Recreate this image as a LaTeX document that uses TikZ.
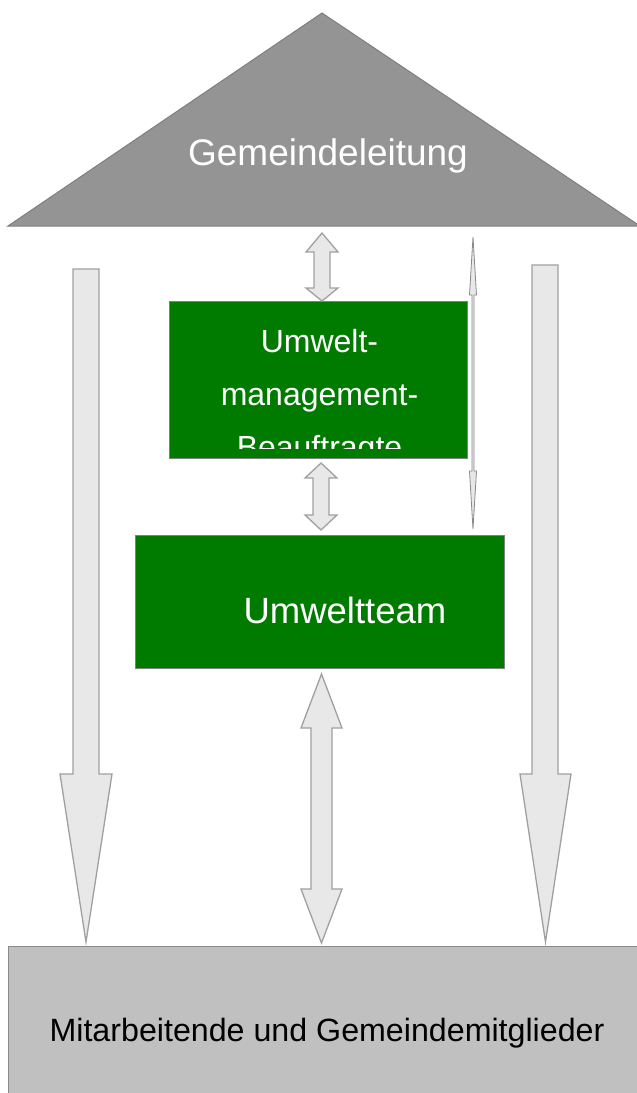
\documentclass[tikz,border=0pt]{standalone}
\usepackage{fontspec}
\setmainfont{Liberation Sans}
\definecolor{roofgray}{HTML}{949494}
\definecolor{roofedge}{HTML}{7F7F7F}
\definecolor{basegray}{HTML}{C0C0C0}
\definecolor{baseedge}{HTML}{8A8A8A}
\definecolor{teamgreen}{HTML}{007B00}
\definecolor{arrowfill}{HTML}{E8E8E8}
\definecolor{arrowedge}{HTML}{A0A0A0}
\tikzset{
  blockarrow/.style={fill=arrowfill, draw=arrowedge, line width=1.3pt, line join=miter},
  greenbox/.style={rectangle, fill=teamgreen, draw=gray, line width=0.9pt, inner sep=0pt},
  basebox/.style={fill=basegray, draw=baseedge, line width=1pt},
  whitetext/.style={text=white, inner sep=0pt, anchor=base},
}
\newcommand{\fsz}[1]{\fontsize{#1}{#1}\selectfont}
\begin{document}
\begin{tikzpicture}[x=1pt,y=-1pt]
\useasboundingbox (0,0) rectangle (637,1093);
\clip (0,0) rectangle (637,1093);

% roof: church leadership
\fill[roofgray, draw=roofedge, line width=1pt, line join=miter] (8,226) -- (322,13) -- (640,226) -- cycle;
\node[whitetext] (lead) at (328,165) {\fsz{37}Gemeindeleitung};

% base: staff and members
\draw[basebox] (8,946) rectangle (645,1100);
\node[inner sep=0pt, anchor=base] (members) at (327,1041) {\fsz{32.2}Mitarbeitende und Gemeindemitglieder};

% environmental management officer
\node[greenbox, minimum width=298pt, minimum height=157pt] (emb) at (318,379.5) {};
\begin{scope}
  \clip (169,301) rectangle (467,448);
  \node[whitetext] (emb1) at (319.5,352) {\fsz{32}Umwelt-};
  \node[whitetext] (emb2) at (319.5,405) {\fsz{32}management-};
  \node[whitetext] (emb3) at (319.5,458) {\fsz{32}Beauftragte};
\end{scope}

% environmental team
\node[greenbox, minimum width=369pt, minimum height=133pt] (team) at (319.5,601.5) {};
\node[whitetext] (teamlbl) at (345,623) {\fsz{36.5}Umweltteam};

% two-way arrow roof <-> officer
\draw[blockarrow] (322,233) -- (338,252) -- (330,252) -- (330,288) -- (338,288) -- (322,301)
  -- (306,288) -- (314,288) -- (314,252) -- (306,252) -- cycle;

% two-way arrow officer <-> team
\draw[blockarrow] (321,463) -- (337,478) -- (329,478) -- (329,515) -- (337,515) -- (321,530)
  -- (305,515) -- (313,515) -- (313,478) -- (305,478) -- cycle;

% two-way arrow team <-> members
\draw[blockarrow] (321.5,674) -- (342,728) -- (332,728) -- (332,889) -- (342,889) -- (321.5,943)
  -- (301,889) -- (311,889) -- (311,728) -- (301,728) -- cycle;

% thin two-way arrow roof <-> team
\draw[fill=arrowfill, draw=arrowedge!85!black, line width=0.8pt] (473,237) -- (476.5,295) -- (474,295) -- (474,471) -- (476.5,471) -- (473,529)
  -- (469.5,471) -- (472,471) -- (472,295) -- (469.5,295) -- cycle;

% left arrow roof -> members
\draw[blockarrow] (73,269) -- (99,269) -- (99,774) -- (112,774) -- (86,942) -- (60,774) -- (73,774) -- cycle;

% right arrow roof -> members
\draw[blockarrow] (532,265) -- (558,265) -- (558,774) -- (571,774) -- (545.5,942) -- (520,774) -- (532,774) -- cycle;
\end{tikzpicture}
\end{document}
